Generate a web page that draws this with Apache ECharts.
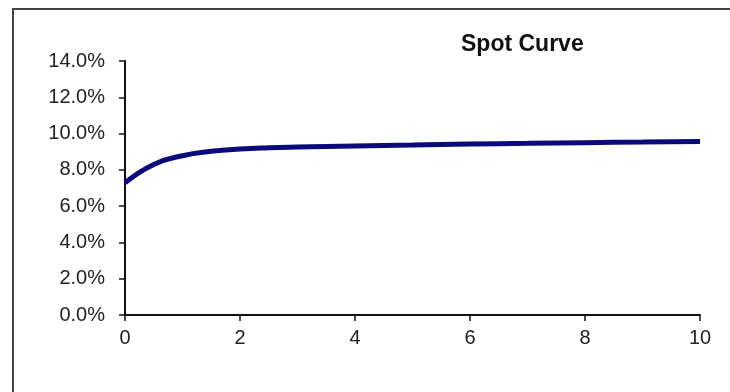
<!DOCTYPE html>
<html>
<head>
<meta charset="utf-8">
<script src="https://cdn.jsdelivr.net/npm/echarts@6/dist/echarts.min.js"></script>
<style>
  html, body { margin: 0; padding: 0; background: #fff; }
  #chart { width: 730px; height: 392px; }
</style>
</head>
<body>
<div id="chart"></div>
<script>
// Spot curve: maturity (years) vs spot rate
const maturities = [0, 0.5, 1, 1.5, 2, 2.5, 3, 4, 5, 6, 7, 8, 9, 10];
const spotRates  = [0.0728, 0.0830, 0.0878, 0.0902, 0.0915, 0.0922, 0.0926, 0.0932, 0.0937, 0.0942, 0.0946, 0.0950, 0.0953, 0.0956];

const chartTitle = 'Spot Curve';
const xTicks = { min: 0, max: 10, step: 2 };
const yTicks = { min: 0, max: 0.14, step: 0.02 };

const chart = echarts.init(document.getElementById('chart'));
const labelFont = { fontFamily: 'Liberation Sans, Arial, sans-serif', fontSize: 20, color: '#222' };

chart.setOption({
  animation: false,
  backgroundColor: '#fff',
  title: {
    text: chartTitle,
    left: 456,
    top: 28,
    textStyle: { fontFamily: 'Liberation Sans, Arial, sans-serif', fontSize: 23, fontWeight: 'bold', color: '#111' }
  },
  graphic: [{
    type: 'rect',
    shape: { x: 13, y: 9, width: 800, height: 500 },
    style: { fill: 'none', stroke: '#444', lineWidth: 2 },
    silent: true
  }],
  grid: { left: 125, right: 30, top: 61, bottom: 77 },
  xAxis: {
    type: 'value',
    min: xTicks.min, max: xTicks.max, interval: xTicks.step,
    axisLine: { lineStyle: { color: '#111', width: 2 } },
    axisTick: { show: true, length: 6, lineStyle: { color: '#111', width: 1.5 } },
    axisLabel: Object.assign({ margin: 13 }, labelFont),
    splitLine: { show: false }
  },
  yAxis: {
    type: 'value',
    min: yTicks.min, max: yTicks.max, interval: yTicks.step,
    axisLine: { show: true, lineStyle: { color: '#111', width: 2 } },
    axisTick: { show: true, length: 6, lineStyle: { color: '#111', width: 1.5 } },
    axisLabel: Object.assign({ margin: 20, formatter: v => (v * 100).toFixed(1) + '%' }, labelFont),
    splitLine: { show: false }
  },
  series: [{
    type: 'line',
    data: maturities.map((m, i) => [m, spotRates[i]]),
    smooth: 0.5,
    showSymbol: false,
    lineStyle: { color: '#0a0a7a', width: 5 }
  }]
});
</script>
</body>
</html>
